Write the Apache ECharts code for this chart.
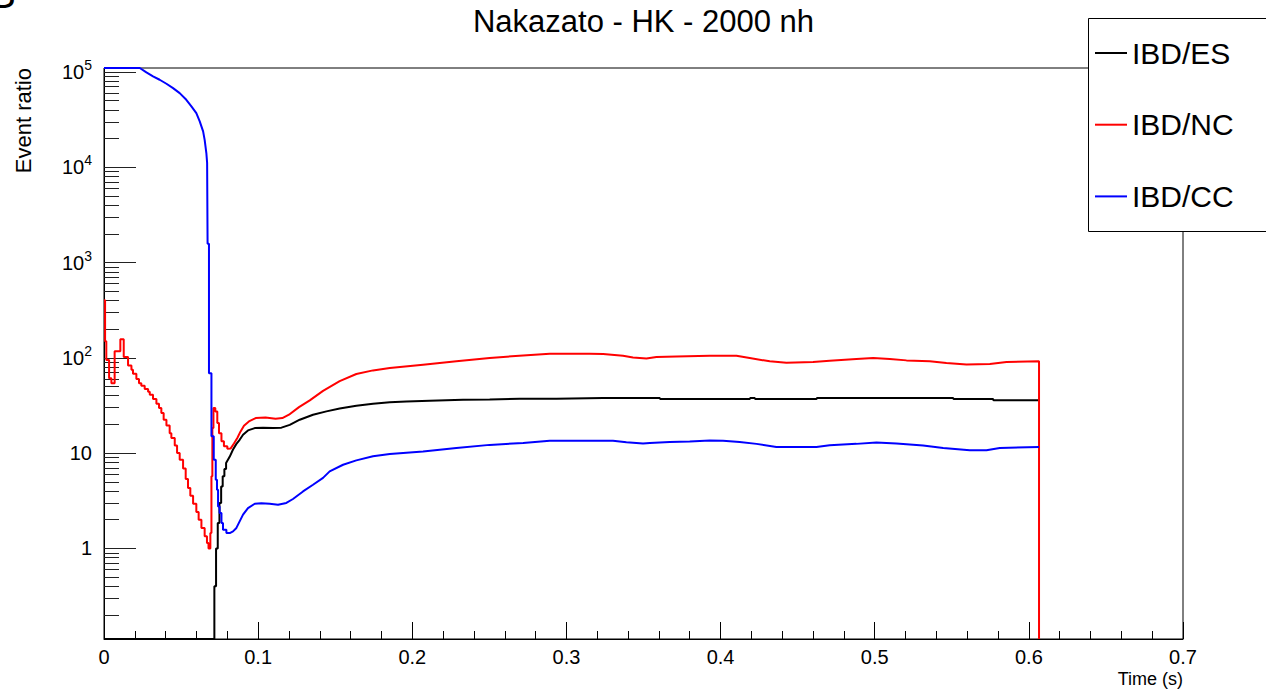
<!DOCTYPE html>
<html>
<head>
<meta charset="utf-8">
<title>Nakazato - HK - 2000 nh</title>
<script src="https://cdn.jsdelivr.net/npm/echarts@6/dist/echarts.min.js"></script>
<style>
  html, body { margin: 0; padding: 0; background: #fff; }
  #chart { width: 1266px; height: 692px; }
</style>
</head>
<body>
<div id="chart"></div>
<script>
// Event-ratio histograms vs. time after bounce (log y scale).
// *Bins arrays: [bin left edge (s), content] for the coarse early bins, drawn as a staircase.
// *Curve arrays: [time (s), ratio] along the slowly varying part, drawn as a polyline.
// A content of 0 is an empty bin; on the log scale it lies on the frame floor.

const titleText = 'Nakazato - HK - 2000 nh';
const seriesNames = ['IBD/ES', 'IBD/NC', 'IBD/CC'];
const seriesColors = ['#000000', '#ff0000', '#0000ff'];

const xTicks = [0, 0.1, 0.2, 0.3, 0.4, 0.5, 0.6, 0.7];
const yDecades = [1, 10, 100, 1000, 10000, 100000];
const yMinorSteps = [2, 3, 4, 5, 6, 7, 8, 9];
const Y_MIN = 0.112;
const Y_MAX = 1.1e5;

// IBD/ES
const esBins = [
  [0, 0], [0.0716, 0.40], [0.0727, 1.0], [0.0738, 1.85], [0.0749, 3.0],
  [0.0760, 4.47], [0.0770, 5.7], [0.0781, 6.8], [0.0792, 7.86]
];
const esCurve = [
  [0.0792, 7.86], [0.0816, 9.2], [0.0837, 10.9], [0.0859, 12.5], [0.0880, 13.8],
  [0.0902, 15.6], [0.0934, 17.3], [0.0978, 18.3], [0.1032, 18.5], [0.1097, 18.3],
  [0.1151, 18.5], [0.1205, 19.8], [0.1270, 22.4], [0.1356, 25.3], [0.1443, 27.4],
  [0.1529, 29.4], [0.1637, 31.4], [0.1745, 33.0], [0.1854, 34.1], [0.1962, 34.9],
  [0.2113, 35.5], [0.2329, 36.3], [0.2502, 36.6], [0.2697, 37.2], [0.2935, 37.2],
  [0.3238, 37.8], [0.3605, 37.8], [0.3610, 36.9], [0.4189, 36.9], [0.4192, 37.8],
  [0.4222, 37.8], [0.4225, 36.9], [0.4622, 36.9], [0.4625, 37.8], [0.5509, 37.8],
  [0.5512, 36.9], [0.5768, 36.9], [0.5771, 35.8], [0.6066, 35.8]
];

// IBD/NC
const ncBins = [
  [0, 401], [0.0007, 149], [0.0015, 95], [0.0033, 61], [0.0048, 54],
  [0.0069, 117], [0.0106, 157], [0.0128, 102], [0.0156, 83], [0.0178, 75],
  [0.0188, 68], [0.0210, 60], [0.0227, 54], [0.0242, 51], [0.0264, 47],
  [0.0286, 44], [0.0297, 41], [0.0318, 37], [0.0340, 33], [0.0357, 29.7],
  [0.0372, 26.3], [0.0387, 22.4], [0.0405, 19.5], [0.0426, 16.2], [0.0437, 14.4],
  [0.0459, 12.0], [0.0474, 10.0], [0.0491, 8.5], [0.0513, 6.9], [0.0530, 5.35],
  [0.0545, 4.3], [0.0560, 3.57], [0.0578, 2.94], [0.0599, 2.41], [0.0614, 2.0],
  [0.0632, 1.64], [0.0653, 1.34], [0.0668, 1.14], [0.0678, 1.0], [0.0690, 1.45],
  [0.0697, 5.7], [0.0703, 18.3], [0.0710, 29.7], [0.0722, 27.4], [0.0735, 20.7],
  [0.0746, 16.2], [0.0762, 13.3], [0.0778, 11.8], [0.0800, 11.1]
];
const ncCurve = [
  [0.0800, 11.1], [0.0822, 11.2], [0.0843, 12.6], [0.0865, 14.4], [0.0886, 16.9],
  [0.0908, 19.4], [0.0940, 21.5], [0.0984, 23.3], [0.1048, 23.7], [0.1113, 23.0],
  [0.1157, 23.3], [0.1200, 25.3], [0.1265, 30.4], [0.1335, 35.8], [0.1421, 45.0],
  [0.1529, 57.0], [0.1637, 67.6], [0.1745, 73.8], [0.1854, 78.1], [0.2070, 84.7],
  [0.2286, 91.8], [0.2502, 99.5], [0.2719, 106], [0.2892, 110], [0.3151, 110],
  [0.3238, 109.6], [0.3367, 105], [0.3432, 101], [0.3519, 98.6], [0.3584, 102],
  [0.3714, 103.5], [0.3930, 105], [0.4103, 105], [0.4189, 99.5], [0.4319, 91.8],
  [0.4427, 88.8], [0.4600, 90.3], [0.4708, 93.3], [0.4881, 97.1], [0.4990, 99.5],
  [0.5098, 97.1], [0.5206, 94.0], [0.5357, 91.8], [0.5465, 88.1], [0.5595, 85.3],
  [0.5747, 86.0], [0.5855, 90.3], [0.6066, 91.8], [0.6066, 0]
];

// IBD/CC
const ccCurveTop = [
  [0, 1.1e5], [0.0232, 1.1e5], [0.0275, 98900], [0.0318, 89800], [0.0361, 82800],
  [0.0405, 75200], [0.0448, 67700], [0.0491, 60000], [0.0534, 51000], [0.0567, 43500],
  [0.0599, 37000], [0.0621, 30300], [0.0643, 23800], [0.0653, 19400], [0.0664, 14100],
  [0.0669, 11100]
];
const ccBins = [
  [0.0669, 11100], [0.0672, 1575], [0.0681, 69], [0.0697, 15], [0.0712, 8.5],
  [0.0725, 5.26], [0.0733, 4.13], [0.0740, 2.76], [0.0750, 2.35], [0.0762, 1.85],
  [0.0772, 1.57], [0.0794, 1.45]
];
const ccCurve = [
  [0.0794, 1.45], [0.0816, 1.45], [0.0837, 1.51], [0.0859, 1.64], [0.0880, 1.92],
  [0.0902, 2.26], [0.0934, 2.65], [0.0978, 2.94], [0.1021, 2.98], [0.1075, 2.94],
  [0.1129, 2.87], [0.1183, 3.0], [0.1226, 3.3], [0.1291, 3.96], [0.1356, 4.66],
  [0.1421, 5.5], [0.1464, 6.43], [0.1551, 7.55], [0.1637, 8.39], [0.1745, 9.25],
  [0.1854, 9.78], [0.2070, 10.4], [0.2286, 11.3], [0.2502, 12.2], [0.2719, 12.8],
  [0.2892, 13.5], [0.3302, 13.5], [0.3389, 13.0], [0.3497, 12.6], [0.3541, 12.8],
  [0.3670, 13.1], [0.3800, 13.2], [0.3930, 13.6], [0.4016, 13.5], [0.4124, 13.1],
  [0.4233, 12.5], [0.4362, 11.6], [0.4622, 11.6], [0.4708, 12.1], [0.4881, 12.5],
  [0.5011, 12.9], [0.5141, 12.6], [0.5314, 12.0], [0.5444, 11.3], [0.5617, 10.7],
  [0.5725, 10.7], [0.5811, 11.3], [0.6066, 11.6]
];

const FONT = "'Liberation Sans', Arial, Helvetica, sans-serif";

// Turn [edge, content] bins into the outline of a histogram.
function stairs(bins) {
  const pts = [];
  bins.forEach(([t, v], i) => {
    if (i > 0) pts.push([t, bins[i - 1][1]]);
    pts.push([t, v]);
  });
  return pts;
}
// Join pieces that share their end/start vertex, and put empty bins on the floor.
function outline(...pieces) {
  const pts = [];
  pieces.forEach((p, i) => pts.push(...(i === 0 ? p : p.slice(1))));
  return pts.map(([t, v]) => [t, v > 0 ? v : Y_MIN]);
}

const seriesData = [
  outline(stairs(esBins), esCurve),
  outline(stairs(ncBins), ncCurve),
  outline(ccCurveTop, stairs(ccBins), ccCurve)
];

const yMinorValues = [];
[0.1, 1, 10, 100, 1000, 10000].forEach(d => yMinorSteps.forEach(m => yMinorValues.push(d * m)));

function decadeLabel(v) {
  const k = Math.round(Math.log10(v));
  if (k === 0) return '1';
  if (k === 1) return '10';
  return '{b|10}{s|' + k + '}';
}

const chart = echarts.init(document.getElementById('chart'), null, { renderer: 'svg' });

chart.setOption({
  animation: false,
  backgroundColor: '#ffffff',
  textStyle: { fontFamily: FONT, color: '#000' },
  title: {
    text: titleText,
    left: 643.5,
    top: 0,
    textAlign: 'center',
    padding: [6, 0, 0, 0],
    textStyle: { fontSize: 31, fontWeight: 'normal', color: '#000', fontFamily: FONT, lineHeight: 30 }
  },
  legend: {
    data: seriesNames,
    orient: 'vertical',
    left: 1095,
    top: 38,
    padding: 0,
    itemWidth: 32,
    itemHeight: 2,
    itemGap: 41.7,
    icon: 'rect',
    selectedMode: false,
    z: 6,
    textStyle: { fontSize: 30, lineHeight: 30, color: '#000', fontFamily: FONT }
  },
  grid: {
    left: 104, top: 68, width: 1079, height: 571,
    show: true, borderColor: '#000', borderWidth: 1, backgroundColor: 'transparent',
    containLabel: false, outerBoundsMode: 'none'
  },
  xAxis: {
    type: 'value',
    min: xTicks[0],
    max: xTicks[xTicks.length - 1],
    interval: 0.1,
    name: 'Time (s)',
    nameLocation: 'end',
    nameGap: 0,
    nameTextStyle: {
      fontSize: 18, color: '#000', fontFamily: FONT,
      align: 'right', verticalAlign: 'top', padding: [31, 0, 0, 0]
    },
    axisLine: { show: true, lineStyle: { color: '#000', width: 1 } },
    axisTick: { show: true, inside: true, length: 17, lineStyle: { color: '#000', width: 1 } },
    minorTick: { show: true, splitNumber: 5, length: 8, lineStyle: { color: '#000', width: 1 } },
    axisLabel: {
      show: true, margin: 8, fontSize: 20, color: '#000', fontFamily: FONT,
      showMinLabel: true, showMaxLabel: true,
      formatter: v => String(Math.round(v * 10) / 10)
    },
    splitLine: { show: false }
  },
  yAxis: [
    {
      type: 'log',
      logBase: 10,
      min: Y_MIN,
      max: Y_MAX,
      position: 'left',
      offset: 0,
      axisLine: { show: true, lineStyle: { color: '#000', width: 1 } },
      axisTick: { show: true, inside: true, length: 32, customValues: yDecades, lineStyle: { color: '#222', width: 1 } },
      axisLabel: {
        show: true, margin: 12, fontSize: 20, color: '#000', fontFamily: FONT,
        customValues: yDecades,
        formatter: decadeLabel,
        rich: {
          b: { fontSize: 20, lineHeight: 28, color: '#000', fontFamily: FONT },
          s: { fontSize: 14, lineHeight: 14, verticalAlign: 'top', color: '#000', fontFamily: FONT }
        }
      },
      splitLine: { show: false }
    },
    {
      type: 'log',
      logBase: 10,
      min: Y_MIN,
      max: Y_MAX,
      position: 'left',
      offset: 0,
      axisLine: { show: false },
      axisTick: { show: true, inside: true, length: 15, customValues: yMinorValues, lineStyle: { color: '#222', width: 1 } },
      axisLabel: { show: false },
      splitLine: { show: false }
    }
  ],
  graphic: [
    {
      type: 'rect', z: 4,
      shape: { x: 1088.5, y: 18.5, width: 260, height: 213 },
      style: { fill: '#ffffff', stroke: '#000', lineWidth: 1 }
    },
    {
      type: 'text', x: 23, y: 68, rotation: Math.PI / 2,
      style: { text: 'Event ratio', fontSize: 22, fill: '#000', fontFamily: FONT, align: 'right', verticalAlign: 'middle' }
    },
    {
      type: 'text', x: -11, y: -6,
      style: { text: 'S', fontSize: 40, fill: '#000', fontFamily: FONT, align: 'left', verticalAlign: 'middle' }
    }
  ],
  series: seriesNames.map((name, i) => ({
    name,
    type: 'line',
    yAxisIndex: 0,
    data: seriesData[i],
    showSymbol: false,
    symbol: 'none',
    color: seriesColors[i],
    lineStyle: { width: 2, color: seriesColors[i] },
    clip: false,
    z: 2,
    silent: true
  }))
});
</script>
</body>
</html>
